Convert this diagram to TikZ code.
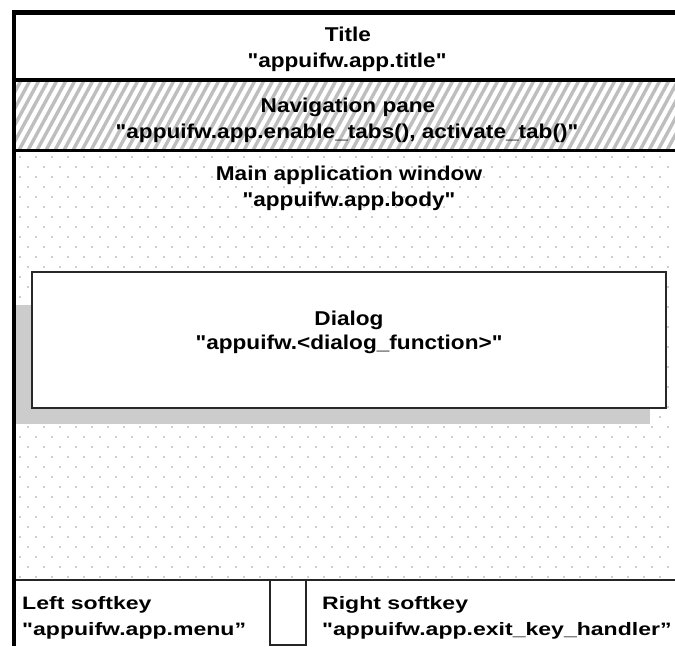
\documentclass[tikz,border=0pt]{standalone}
\usepackage{fontspec}
\setmainfont{Liberation Sans}
\newfontfamily\topfont[FakeStretch=1.13]{Liberation Sans}
\newfontfamily\keyfont[FakeStretch=1.28]{Liberation Sans}
\definecolor{hatchgray}{HTML}{BEBEBE}
\definecolor{dotgray}{HTML}{A0A0A0}
\definecolor{shadowgray}{HTML}{CCCCCC}
\definecolor{dlgborder}{HTML}{282828}
\tikzset{
  toptext/.style={anchor=base, inner sep=0pt, font=\topfont\bfseries\fontsize{20}{24}\selectfont},
  keytext/.style={anchor=base west, inner sep=0pt, font=\keyfont\bfseries\fontsize{18}{22}\selectfont},
  hatchline/.style={draw=hatchgray, line width=3.4pt},
  thickrule/.style={draw=black, line width=3.5pt},
  thinrule/.style={draw=black!85, line width=2pt},
  keyrule/.style={draw=black!85, line width=1.5pt}
}
\begin{document}
\begin{tikzpicture}[x=1pt,y=-1pt]
\useasboundingbox (0,0) rectangle (675,646);
\clip (0,0) rectangle (675,646);
\fill[white] (0,0) rectangle (675,646);
% navigation pane hatching
\begin{scope}
  \clip (16,81) rectangle (675,149);
  \foreach \i in {-6,...,78} {
    \draw[hatchline] (\i*9,152) -- ++(40.4,-74);
  }
\end{scope}
% main window dots
\foreach \r in {0,...,42} {
  \pgfmathsetmacro\yy{157+\r*10}
  \pgfmathsetmacro\xo{mod(\r,2)*8}
  \foreach \c in {0,...,41} {
    \fill[dotgray] (20+\xo+\c*16,\yy) circle (0.9);
  }
}
% dialog shadow and box
\fill[shadowgray] (16,305) rectangle (650,424);
\draw[draw=dlgborder, fill=white, line width=2.4pt] (32,272) rectangle (666,408);
% frame rules
\draw[draw=black, line width=5pt] (12,12.5) -- (675,12.5);
\draw[thickrule] (14,80) -- (675,80);
\draw[thickrule] (14,150.5) -- (675,150.5);
\draw[thinrule] (14,580) -- (675,580);
\draw[keyrule] (270,580) -- (270,646);
\draw[keyrule] (306,580) -- (306,646);
\draw[keyrule] (270,645) -- (306,645);
\draw[draw=black, line width=4.5pt] (14,10) -- (14,646);
% texts
\node[toptext] (title) at (348,41) {Title};
\node[toptext] (titlecode) at (347,67) {"appuifw.app.title"};
\node[toptext] (nav) at (348,112) {Navigation pane};
\node[toptext] (navcode) at (347,138) {"appuifw.app.enable\_tabs(), activate\_tab()"};
\node[toptext] (main) at (349,180) {Main application window};
\node[toptext] (maincode) at (349,206) {"appuifw.app.body"};
\node[toptext] (dlg) at (349,325) {Dialog};
\node[toptext] (dlgcode) at (349,349) {"appuifw.<dialog\_function>"};
\node[keytext] (lkey) at (22,609) {Left softkey};
\node[keytext] (lkeycode) at (22,635) {"appuifw.app.menu”};
\node[keytext] (rkey) at (322,609) {Right softkey};
\node[keytext] (rkeycode) at (322,635) {"appuifw.app.exit\_key\_handler”};
\end{tikzpicture}
\end{document}
